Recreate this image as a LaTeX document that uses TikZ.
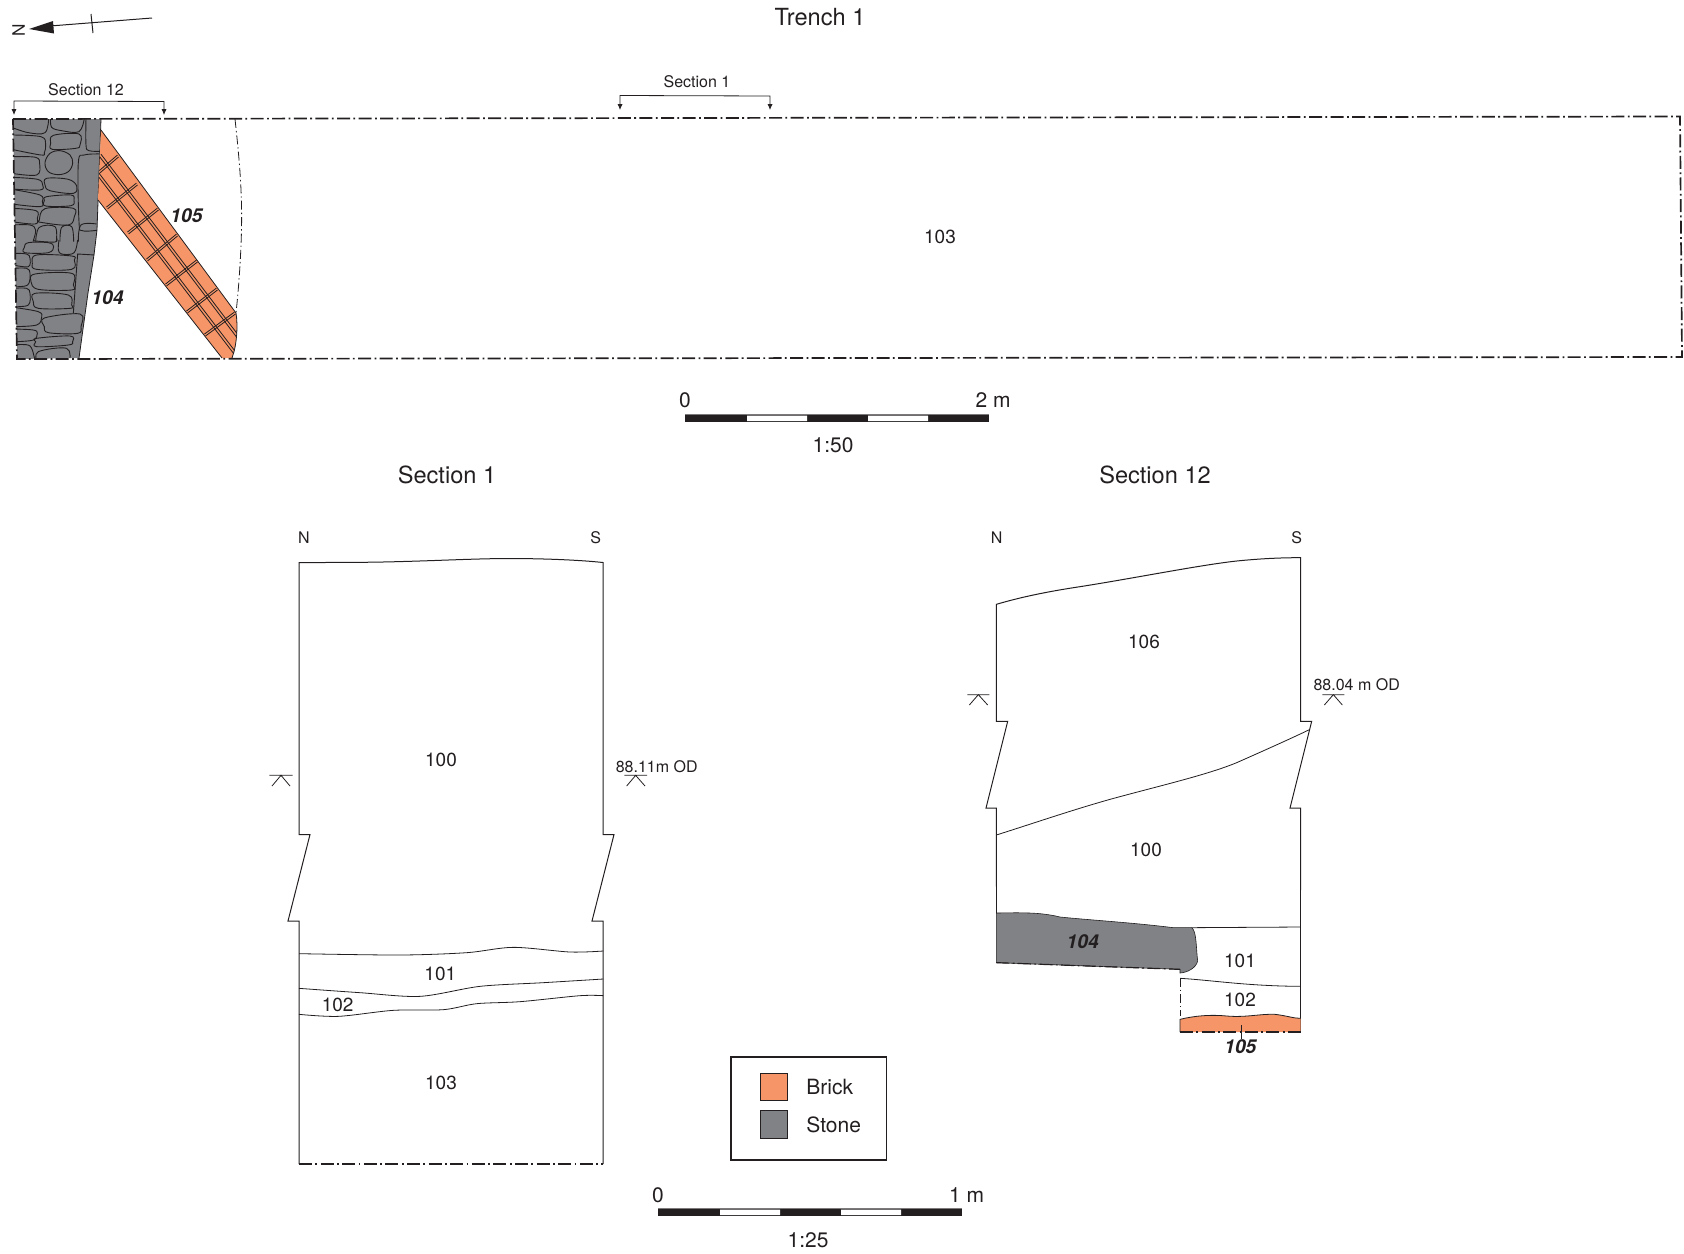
\documentclass[tikz,border=0pt]{standalone}
\usepackage{fontspec}
\setmainfont{TeX Gyre Heros}
\usetikzlibrary{arrows.meta}
\definecolor{ink}{HTML}{231F20}
\definecolor{brick}{HTML}{F69568}
\definecolor{stone}{HTML}{808285}
\newcommand{\stoneo}[1]{\draw[stoneline] plot[smooth,tension=.6] coordinates {#1};}
\newcommand{\stonec}[1]{\draw[stoneline] plot[smooth cycle,tension=.6] coordinates {#1};}
\tikzset{
  zoomed/.style 2 args={shift={(#1,#2)},scale=0.33333},
  outline/.style={draw=ink,line width=0.5pt,line join=miter},
  thin line/.style={draw=ink,line width=0.4pt},
  limit/.style={draw=ink,line width=0.85pt,dash pattern=on 6.5pt off 1.7pt on 0.9pt off 1.7pt},
  thin limit/.style={draw=ink,line width=0.4pt,dash pattern=on 4.5pt off 1.5pt on 0.7pt off 1.5pt},
  stoneline/.style={draw=ink,line width=0.45pt},
  bandline/.style={draw=ink,line width=0.4pt},
  lbl/.style={text=ink,inner sep=0pt,font=\fontsize{9.5}{11}\selectfont},
  tiny lbl/.style={text=ink,inner sep=0pt,font=\fontsize{8}{10}\selectfont},
  ctx lbl/.style={text=ink,inner sep=0pt,font=\fontsize{9.6}{11}\selectfont\bfseries\itshape},
  title lbl/.style={text=ink,inner sep=0pt,font=\fontsize{11.8}{13}\selectfont},
  scale lbl/.style={text=ink,inner sep=0pt,font=\fontsize{10.5}{12}\selectfont},
  bracket/.style={draw=ink,line width=0.4pt,{Latex[length=3pt,width=2.6pt]}-{Latex[length=3pt,width=2.6pt]}},
}
\begin{document}
\begin{tikzpicture}[x=0.5pt,y=-0.5pt]
\useasboundingbox (0,0) rectangle (1684,1253);
% north arrow
\draw[ink,line width=0.5pt] (152,18) -- (50,26);
\fill[ink] (29,29) -- (53,21) -- (54,33.5) -- cycle;
\draw[ink,line width=0.5pt] (91,14) -- (93,33);
\node[tiny lbl,rotate=90,font=\fontsize{8.6}{10}\selectfont] (north) at (18.5,30) {N};
% titles
\node[title lbl] (trench) at (820,17) {Trench 1};
\node[title lbl] (sec1title) at (447,475) {Section 1};
\node[title lbl] (sec12title) at (1155,475) {Section 12};
% section brackets
\node[tiny lbl] (sec12lab) at (86,89.5) {Section 12};
\node[tiny lbl] (sec1lab) at (697,82) {Section 1};
\draw[bracket] (14,115) -- (14,101) -- (164,101.5) -- (164,115);
\draw[bracket] (620,110) -- (620,95.5) -- (770,96) -- (770,110);
% stone wall
\fill[stone] (13,119) -- (101,119) -- (97,230) -- (94,255) -- (88,293) -- (79,358) -- (17,359) -- cycle;
\begin{scope}
\clip (13,119) -- (101,119) -- (97,230) -- (94,255) -- (88,293) -- (79,358) -- (17,359) -- cycle;
\begin{scope}[zoomed={5}{110}]
\stoneo{(20,52)(70,68)(120,68)(131,25)}
\stoneo{(137,25)(140,52)(170,62)(222,65)(238,25)}
\stoneo{(243,25)(243,105)(252,122)(290,124)}
\stonec{(145,76)(222,72)(225,105)(212,115)(142,118)(137,100)}
\stoneo{(20,75)(108,80)(122,103)(118,128)(108,135)(20,118)}
\stonec{(120,158)(135,130)(165,122)(195,135)(203,160)(190,185)(160,194)(130,185)}
\stoneo{(20,140)(92,142)(104,162)(95,195)(20,190)}
\stoneo{(290,132)(238,135)(220,158)(222,335)(232,362)(282,360)}
\stoneo{(20,202)(98,208)(113,225)(105,240)(20,237)}
\stoneo{(20,238)(105,255)(112,275)(105,290)(20,282)}
\stonec{(125,205)(190,208)(215,228)(205,250)(135,242)(120,225)}
\stonec{(125,260)(198,255)(207,270)(198,287)(122,288)(118,272)}
\stoneo{(20,295)(93,302)(97,325)(90,342)(20,335)}
\stonec{(120,296)(205,295)(208,320)(190,345)(108,337)(103,330)}
\stoneo{(20,345)(75,345)(92,360)(84,395)}
\stoneo{(92,395)(103,352)(150,350)(154,395)}
\stoneo{(165,395)(170,352)(200,350)(206,395)}
\stoneo{(220,395)(228,345)(275,342)}
\end{scope}
\begin{scope}[zoomed={5}{230}]
\stonec{(60,68)(58,52)(70,38)(130,38)(146,50)(130,68)}
\stoneo{(88,30)(92,33)(150,36)(155,25)}
\stoneo{(162,30)(160,60)(170,72)(200,72)(212,60)(218,30)}
\draw[stoneline] (205,250) -- (218,72) -- (270,75);
\stoneo{(25,70)(65,72)(75,85)(70,110)(25,105)}
\stonec{(95,75)(200,78)(208,90)(200,118)(95,118)(82,100)}
\stoneo{(25,115)(65,115)(75,130)(68,165)(25,170)}
\stonec{(90,132)(200,130)(205,165)(200,180)(100,178)(78,155)}
\stoneo{(25,175)(65,175)(75,190)(70,225)(25,230)}
\stonec{(90,190)(190,195)(200,225)(195,235)(100,235)(85,215)}
\stoneo{(25,232)(100,245)(110,262)(95,285)(25,290)}
\stonec{(118,264)(225,252)(228,290)(218,310)(130,308)(118,290)}
\stoneo{(25,297)(85,300)(97,310)(85,330)(30,335)}
\stonec{(95,325)(195,318)(203,335)(190,345)(95,350)(92,335)}
\stoneo{(30,345)(75,348)(90,395)}
\stoneo{(96,395)(100,365)(185,355)(194,395)}
\end{scope}
\end{scope}
\draw[thin line] (101,119) -- (97,230) -- (94,255) -- (88,293) -- (79,358);
% brick band
\fill[brick] (101,130) -- (236,313) .. controls (238,325) and (237,345) .. (232,358) -- (222,358) -- (98,200) -- cycle;
\begin{scope}
\clip (101,130) -- (236,313) .. controls (238,325) and (237,345) .. (232,358) -- (222,358) -- (98,200) -- cycle;
\foreach \ax/\ay/\bx/\by in {100/172/108/164,117/200/127/192,138/225/148/217,157/252/167/243,176/277/187/269,197/304/207/297,215/327/225/321}{
  \draw[bandline] ({\ax-10+0.6},{\ay+8+0.9}) -- ({\bx+10+0.6},{\by-8+0.9});
  \draw[bandline] ({\ax-10-0.6},{\ay+8-0.9}) -- ({\bx+10-0.6},{\by-8-0.9});
}
\draw[bandline] ({100+1},{152-0.8+3}) -- ({240+1},{339.5-0.8});
\draw[bandline] ({100-1},{152+0.8+3}) -- ({240-1},{339.5+0.8});
\draw[bandline] ({98+1},{174-0.8}) -- ({236+1},{354.5-0.8});
\draw[bandline] ({98-1},{174+0.8}) -- ({236-1},{354.5+0.8});
\end{scope}
\draw[thin line] (98,200) -- (222,358) (232,358) .. controls (237,345) and (238,325) .. (236,313) -- (101,130);
% trench outline
\draw[thin limit] (235,119) .. controls (240,165) and (243,200) .. (241,245) .. controls (240,270) and (238,295) .. (236,313);
\draw[limit] (13,119) -- (1680,116.5) -- (1682,357) -- (17,359) -- cycle;
\node[ctx lbl] (t105) at (186.5,216) {105};
\node[ctx lbl] (t104) at (107.5,298) {104};
\node[lbl] (t103) at (940,237) {103};
% scale 1:50
\fill[ink] (685,414) rectangle (989,422);
\draw[ink!60,line width=0.3pt] (685,414) -- (989,414);
\fill[white] (747,415.5) rectangle (807,421) (868,415.5) rectangle (928,421);
\node[scale lbl] (s50a) at (685,400) {0};
\node[scale lbl] (s50b) at (993,400) {2 m};
\node[scale lbl] (s50c) at (833,445) {1:50};
% section 1
\draw[outline] (299,1164) -- (299,921) -- (288,921) -- (310,834.5) -- (299,834.5) -- (299,562.5)
  .. controls (340,562.5) and (370,562.5) .. (403,561.5) .. controls (440,560.5) and (480,558.5) .. (510,558.5)
  .. controls (535,558.5) and (575,559.5) .. (603,562.5) -- (603,834.5) -- (614,834.5) -- (592,921) -- (603,921) -- (603,1164);
\draw[limit,line width=0.65pt] (299,1164) -- (603,1164);
\begin{scope}[zoomed={260}{901}]
\draw[thin line] plot[smooth,tension=.5] coordinates {(117,158)(420,162)(620,155)(760,139)(930,153)(1030,150)};
\draw[thin line] plot[smooth,tension=.5] coordinates {(117,262)(300,275)(480,286)(660,256)(850,245)(1030,234)};
\draw[thin line] plot[smooth,tension=.5] coordinates {(117,340)(235,346)(400,328)(550,326)(650,308)(780,302)(960,284)(1030,284)};
\node[lbl] (s101) at (541,220) {101};
\node[lbl] (s102) at (233,312) {102};
\node[lbl] (s103) at (543,547) {103};
\end{scope}
\begin{scope}[zoomed={260}{520}]
\node[tiny lbl] (sn) at (132,52) {N};
\node[tiny lbl] (ss) at (1007,52) {S};
\node[lbl] (s100) at (543,720) {100};
\node[tiny lbl] (sod) at (1190,739) {88.11m OD};
\draw[thin line] (28,766) -- (98,766) (36,798) -- (63,766) -- (90,798);
\draw[thin line] (1093,766) -- (1161,766) (1100,798) -- (1127,766) -- (1155,798);
\end{scope}
% section 12
\begin{scope}[zoomed={960}{520}]
\draw[outline] (109,1100) -- (109,864) -- (78,864) -- (143,604) -- (109,604) -- (109,253)
  .. controls (180,232) and (260,215) .. (360,200) .. controls (520,175) and (720,135) .. (830,123) .. controls (900,116) and (960,113) .. (1022,113)
  -- (1022,604) -- (1055,604) -- (990,864) -- (1022,864) -- (1022,1110);
\draw[thin line] (109,945) .. controls (220,910) and (330,872) .. (450,838) .. controls (600,797) and (740,765) .. (830,728) .. controls (900,697) and (990,657) .. (1048,629);
\node[tiny lbl] (tn) at (110,52) {N};
\node[tiny lbl] (ts) at (1010,52) {S};
\node[lbl] (t106) at (552,366) {106};
\node[lbl] (t100) at (558,989) {100};
\node[tiny lbl] (tod) at (1190,495) {88.04 m OD};
\draw[thin line] (22,524) -- (88,524) (28,555) -- (55,524) -- (83,555);
\draw[thin line] (1087,524) -- (1153,524) (1093,555) -- (1120,524) -- (1147,555);
\end{scope}
\begin{scope}[zoomed={960}{881}]
\draw[outline] (109,0) -- (109,96);
\draw[outline] (1022,0) -- (1022,453);
\fill[stone,draw=ink,line width=0.3pt] (109,96) .. controls (180,95) and (240,93) .. (300,108) .. controls (400,118) and (520,125) .. (640,140) -- (695,140)
  .. controls (710,150) and (708,200) .. (713,240) .. controls (708,262) and (680,275) .. (660,276) -- (660,265) -- (109,245) -- cycle;
\draw[limit,line width=0.6pt] (109,245) -- (660,265);
\draw[thin line] (695,140) -- (1022,138);
\draw[thin line] (662,292) .. controls (760,298) and (860,315) .. (1022,316);
\draw[thin limit] (660,290) -- (660,405);
\path[fill=brick] (660,415) .. controls (700,405) and (750,400) .. (800,405) .. controls (860,410) and (900,398) .. (945,400) .. controls (980,404) and (1000,412) .. (1022,412) -- (1022,453) -- (660,453) -- cycle;
\draw[thin line] (660,453) -- (660,415) .. controls (700,405) and (750,400) .. (800,405) .. controls (860,410) and (900,398) .. (945,400) .. controls (980,404) and (1000,412) .. (1022,412);
\draw[limit,line width=0.6pt] (660,453) -- (1022,453);
\draw[thin line] (843,433) -- (843,473);
\node[ctx lbl] (t104b) at (368,183) {104};
\node[lbl] (t101) at (840,240) {101};
\node[lbl] (t102) at (840,358) {102};
\node[ctx lbl] (t105b) at (841,498) {105};
\end{scope}
% legend
\draw[ink,line width=0.75pt] (731,1057) rectangle (886.5,1160);
\draw[ink,line width=0.4pt,fill=brick] (760,1073.5) rectangle (787.5,1100.5);
\draw[ink,line width=0.4pt,fill=stone] (760,1110.5) rectangle (787.5,1138.5);
\node[scale lbl,anchor=west] (lb) at (806,1086.5) {Brick};
\node[scale lbl,anchor=west] (ls) at (806,1124.5) {Stone};
% scale 1:25
\fill[ink] (658,1208) rectangle (962,1216);
\draw[ink!60,line width=0.3pt] (658,1208) -- (962,1208);
\fill[white] (720,1209.5) rectangle (780,1215) (841,1209.5) rectangle (901,1215);
\node[scale lbl] (s25a) at (658,1195) {0};
\node[scale lbl] (s25b) at (966.5,1195) {1 m};
\node[scale lbl] (s25c) at (808,1240.5) {1:25};
\end{tikzpicture}
\end{document}
